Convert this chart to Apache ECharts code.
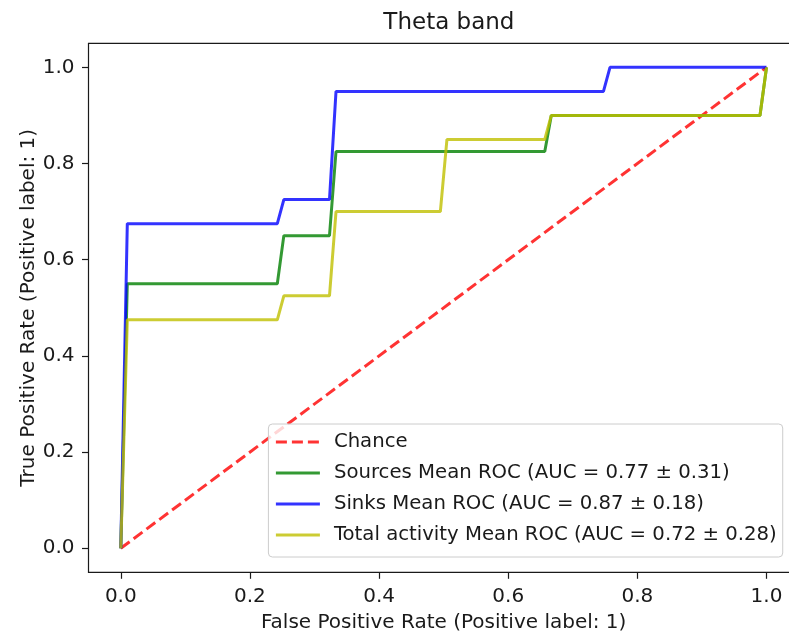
<!DOCTYPE html>
<html>
<head>
<meta charset="utf-8">
<script src="https://cdn.jsdelivr.net/npm/echarts@6/dist/echarts.min.js"></script>
<style>
  html, body { margin: 0; padding: 0; background: #fff; }
  #chart { width: 789px; height: 635px; }
</style>
</head>
<body>
<div id="chart"></div>
<script>
// ---- data ----
const titleText = 'Theta band';
const xAxisName = 'False Positive Rate (Positive label: 1)';
const yAxisName = 'True Positive Rate (Positive label: 1)';
const tickValues = [0, 0.2, 0.4, 0.6, 0.8, 1.0];

const seriesNames = [
  'Chance',
  'Sources Mean ROC (AUC = 0.77 \u00b1 0.31)',
  'Sinks Mean ROC (AUC = 0.87 \u00b1 0.18)',
  'Total activity Mean ROC (AUC = 0.72 \u00b1 0.28)'
];

const chanceFpr = [0, 1];
const chanceTpr = [0, 1];

const sourcesFpr = [0, 0.0101, 0.2424, 0.2525, 0.3232, 0.3333, 0.6566, 0.6667, 0.9899, 1.0];
const sourcesTpr = [0, 0.55, 0.55, 0.65, 0.65, 0.825, 0.825, 0.90, 0.90, 1.0];

const sinksFpr = [0, 0.0101, 0.2424, 0.2525, 0.3232, 0.3333, 0.7475, 0.7576, 1.0];
const sinksTpr = [0, 0.675, 0.675, 0.725, 0.725, 0.95, 0.95, 1.0, 1.0];

const totalFpr = [0, 0.0101, 0.2424, 0.2525, 0.3232, 0.3333, 0.4949, 0.5051, 0.6566, 0.6667, 0.9899, 1.0];
const totalTpr = [0, 0.475, 0.475, 0.525, 0.525, 0.70, 0.70, 0.85, 0.85, 0.90, 0.90, 1.0];

// ---- build ----
function pairs(xs, ys) { return xs.map((x, i) => [x, ys[i]]); }

const FONT = 'DejaVu Sans';
const chart = echarts.init(document.getElementById('chart'), null, { renderer: 'canvas' });

function axisCommon(name, isX) {
  return {
    type: 'value',
    min: -0.05,
    max: 1.05,
    name: name,
    nameLocation: 'middle',
    nameGap: isX ? 40 : 50,
    nameMoveOverlap: false,
    nameTextStyle: { fontFamily: FONT, fontSize: 20, color: '#1a1a1a' },
    axisLine: { show: false, onZero: false },
    axisTick: {
      show: true, inside: false, length: 6.5,
      lineStyle: { color: '#1a1a1a', width: 1.2 },
      customValues: tickValues
    },
    axisLabel: {
      show: true, margin: 14,
      fontFamily: FONT, fontSize: 20, color: '#1a1a1a',
      customValues: tickValues,
      formatter: v => v.toFixed(1)
    },
    splitLine: { show: false }
  };
}

const option = {
  backgroundColor: '#fff',
  animation: false,
  title: {
    text: titleText,
    left: 443.9,
    textAlign: 'center',
    top: 7,
    textStyle: { fontFamily: FONT, fontSize: 23, fontWeight: 'normal', color: '#1a1a1a' }
  },
  grid: {
    left: 88.5,
    top: 43.3,
    width: 710.3,
    height: 529,
    show: true,
    borderColor: '#1a1a1a',
    borderWidth: 1.2,
    backgroundColor: 'transparent',
    containLabel: false,
    outerBoundsMode: 'none'
  },
  xAxis: axisCommon(xAxisName, true),
  yAxis: axisCommon(yAxisName, false),
  legend: {
    orient: 'vertical',
    left: 268.4,
    top: 424,
    padding: [8, 6, 12, 6],
    itemWidth: 44,
    itemHeight: 14,
    itemGap: 11,
    align: 'left',
    backgroundColor: 'rgba(255,255,255,0.8)',
    borderColor: '#cccccc',
    borderWidth: 1,
    borderRadius: 4,
    itemStyle: { opacity: 0, borderWidth: 0 },
    lineStyle: { width: 3 },
    textStyle: { fontFamily: FONT, fontSize: 19.7, color: '#1a1a1a', lineHeight: 20, padding: [0, 0, 0, 9] },
    data: seriesNames
  },
  series: [
    {
      name: seriesNames[0], type: 'line', data: pairs(chanceFpr, chanceTpr),
      symbol: 'none', z: 2,
      lineStyle: { color: '#ff0000', width: 3, opacity: 0.8, type: [11, 5] },
      itemStyle: { color: '#ff0000', opacity: 0.8 }
    },
    {
      name: seriesNames[1], type: 'line', data: pairs(sourcesFpr, sourcesTpr),
      symbol: 'none', z: 3,
      lineStyle: { color: '#008000', width: 3, opacity: 0.8 },
      itemStyle: { color: '#008000', opacity: 0.8 }
    },
    {
      name: seriesNames[2], type: 'line', data: pairs(sinksFpr, sinksTpr),
      symbol: 'none', z: 4,
      lineStyle: { color: '#0000ff', width: 3, opacity: 0.8 },
      itemStyle: { color: '#0000ff', opacity: 0.8 }
    },
    {
      name: seriesNames[3], type: 'line', data: pairs(totalFpr, totalTpr),
      symbol: 'none', z: 5,
      lineStyle: { color: '#bfbf00', width: 3, opacity: 0.8 },
      itemStyle: { color: '#bfbf00', opacity: 0.8 }
    }
  ]
};

chart.setOption(option);
</script>
</body>
</html>
